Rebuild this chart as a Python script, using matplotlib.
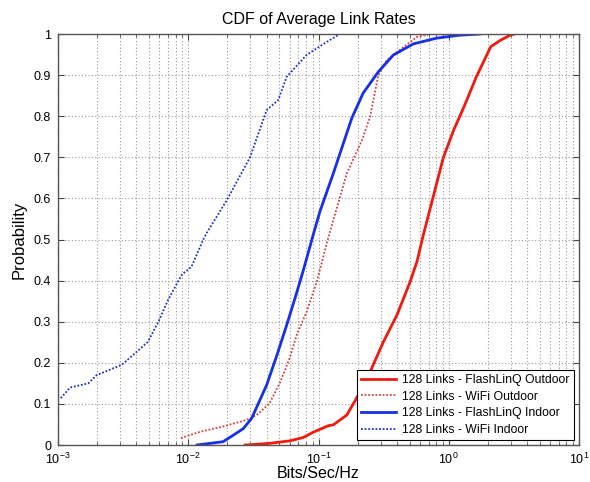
import matplotlib
matplotlib.use("Agg")
import matplotlib.pyplot as plt
from matplotlib.ticker import LogLocator, NullFormatter

plt.rcParams['font.family'] = ['Liberation Sans', 'DejaVu Sans']
plt.rcParams['mathtext.fontset'] = 'custom'
plt.rcParams['mathtext.rm'] = 'Liberation Sans'
plt.rcParams['mathtext.it'] = 'Liberation Sans:italic'

# FlashLinQ Outdoor (red solid)
fo_x = [0.0273, 0.028, 0.042, 0.060, 0.076, 0.091, 0.119, 0.13, 0.165, 0.196, 0.249, 0.315,
        0.40, 0.505, 0.57, 0.64, 0.76, 0.91, 1.09, 1.31, 1.63, 2.1, 2.5, 3.0, 3.2]
fo_y = [0.0, 0.0, 0.004, 0.010, 0.018, 0.031, 0.047, 0.049, 0.073, 0.114, 0.178, 0.251,
        0.316, 0.397, 0.446, 0.513, 0.604, 0.700, 0.766, 0.823, 0.896, 0.969, 0.985, 0.998, 1.0]

# WiFi Outdoor (red dotted)
wo_x = [0.0088, 0.0090, 0.0123, 0.0185, 0.028, 0.0335, 0.042, 0.051, 0.060, 0.068, 0.081, 0.097,
        0.119, 0.165, 0.216, 0.249, 0.288, 0.335, 0.42, 0.57, 0.72]
wo_y = [0.016, 0.018, 0.032, 0.045, 0.061, 0.073, 0.101, 0.154, 0.211, 0.268, 0.324, 0.397,
        0.505, 0.661, 0.742, 0.799, 0.900, 0.937, 0.961, 0.993, 1.0]

# FlashLinQ Indoor (blue solid)
fi_x = [0.0117, 0.0185, 0.0222, 0.0265, 0.0307, 0.040, 0.048, 0.057, 0.066, 0.076, 0.091, 0.1025,
        0.130, 0.180, 0.22, 0.288, 0.376, 0.535, 0.81, 1.2, 1.73]
fi_y = [0.0, 0.008, 0.024, 0.040, 0.065, 0.146, 0.219, 0.292, 0.357, 0.422, 0.511, 0.568,
        0.661, 0.795, 0.856, 0.908, 0.949, 0.976, 0.990, 0.997, 1.0]

# WiFi Indoor (blue dotted)
wi_x = [0.00105, 0.00124, 0.00171, 0.00198, 0.00308, 0.0039, 0.0049, 0.0059, 0.0070, 0.0089,
        0.0106, 0.0130, 0.0138, 0.0198, 0.0298, 0.040, 0.049, 0.057, 0.081, 0.116, 0.146]
wi_y = [0.114, 0.140, 0.150, 0.170, 0.195, 0.223, 0.251, 0.300, 0.353, 0.414,
        0.434, 0.499, 0.515, 0.596, 0.700, 0.815, 0.839, 0.896, 0.949, 0.981, 1.0]

labels = ['128 Links - FlashLinQ Outdoor', '128 Links - WiFi Outdoor',
          '128 Links - FlashLinQ Indoor', '128 Links - WiFi Indoor']
yticks = [0, 0.1, 0.2, 0.3, 0.4, 0.5, 0.6, 0.7, 0.8, 0.9, 1]
ytick_labels = ['0', '0.1', '0.2', '0.3', '0.4', '0.5', '0.6', '0.7', '0.8', '0.9', '1']

fig = plt.figure(figsize=(5.9, 4.82), dpi=100)
ax = fig.add_axes([58/590, 1-445/482, (579-58)/590, (445-34)/482])

red = '#f01a10'
red_dot = '#d84040'
blue = '#1530e8'
blue_dot = '#2030d0'

ax.plot(fo_x, fo_y, color=red, lw=2.0, label=labels[0])
ax.plot(wo_x, wo_y, color=red_dot, lw=1.3, ls=(0, (1, 1)), label=labels[1])
ax.plot(fi_x, fi_y, color=blue, lw=2.0, label=labels[2])
ax.plot(wi_x, wi_y, color=blue_dot, lw=1.3, ls=(0, (1, 1)), label=labels[3])

ax.set_xscale('log')
ax.set_xlim(1e-3, 1e1)
ax.set_ylim(0, 1)
ax.xaxis.set_major_locator(LogLocator(base=10, numticks=10))
ax.xaxis.set_minor_locator(LogLocator(base=10, subs=range(2, 10), numticks=20))
ax.xaxis.set_minor_formatter(NullFormatter())
ax.set_yticks(yticks)
ax.set_yticklabels(ytick_labels)

ax.grid(True, which='major', axis='both', color='#9a9a9a', ls=(0, (1, 2)), lw=0.8)
ax.grid(True, which='minor', axis='x', color='#9a9a9a', ls=(0, (1, 2)), lw=0.8)
ax.set_axisbelow(True)

ax.tick_params(which='both', direction='in', top=True, right=True, labelsize=9, color='#444444')
ax.tick_params(which='major', length=4)
ax.tick_params(which='minor', length=2)
ax.tick_params(axis='x', which='major', pad=5)
ax.tick_params(axis='y', which='major', pad=5)
for s in ax.spines.values():
    s.set_color('#555555')
    s.set_linewidth(1.0)

ax.set_title('CDF of Average Link Rates', fontsize=11.5, pad=7)
ax.set_xlabel('Bits/Sec/Hz', fontsize=11.5)
ax.xaxis.set_label_coords(0.5, -0.05)
ax.set_ylabel('Probability', fontsize=12, labelpad=5)

leg = ax.legend(loc='lower right', fontsize=8.8, frameon=True, fancybox=False,
                edgecolor='black', framealpha=1, borderaxespad=0.4,
                handlelength=2.9, labelspacing=0.38, borderpad=0.35, handletextpad=0.5)
leg.get_frame().set_linewidth(0.8)

fig.savefig('out.png', dpi=100)
